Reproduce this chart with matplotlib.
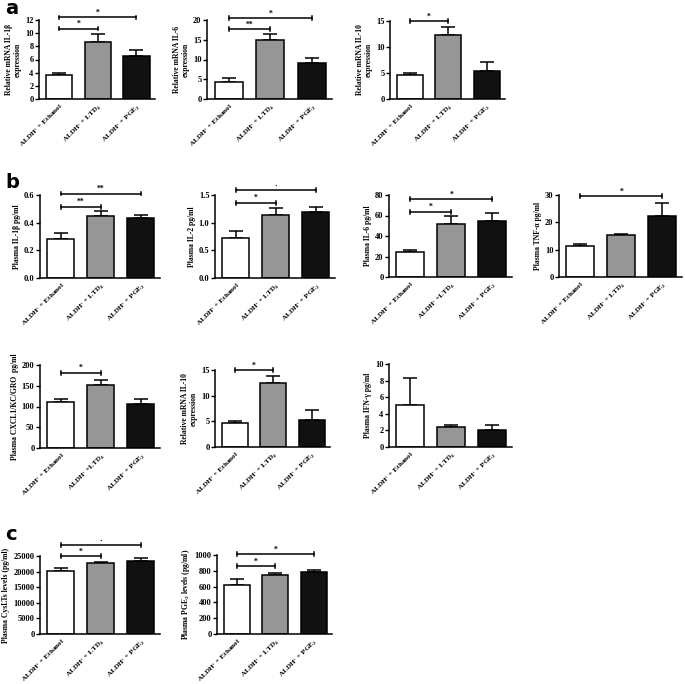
import numpy as np
import matplotlib
matplotlib.use("Agg")
import matplotlib.pyplot as plt

plt.rcParams['font.family'] = ['Liberation Serif', 'DejaVu Serif']
plt.rcParams['mathtext.fontset'] = 'custom'
plt.rcParams['mathtext.rm'] = 'Liberation Serif:bold'
plt.rcParams['mathtext.it'] = 'Liberation Serif:bold'
plt.rcParams['mathtext.bf'] = 'Liberation Serif:bold'

groups = ["ALDH$^{+}$ + Ethanol", "ALDH$^{+}$ + LTD$_{4}$", "ALDH$^{+}$ + PGE$_{2}$"]
groups_b = ["ALDH$^{+}$ + Ethanol", "ALDH$^{+}$ +LTD$_{4}$", "ALDH$^{+}$ + PGE$_{2}$"]
bar_colors = ["white", "#969696", "#111111"]

# panel a - relative mRNA expression
a_il1b = [3.7, 8.6, 6.5]
a_il1b_err = [0.3, 1.2, 0.9]
a_il6 = [4.3, 15.0, 9.1]
a_il6_err = [1.0, 1.5, 1.2]
a_il10 = [4.6, 12.4, 5.4]
a_il10_err = [0.4, 1.5, 1.8]

# panel b - plasma cytokines (pg/ml)
b_il1b = [0.28, 0.45, 0.435]
b_il1b_err = [0.045, 0.035, 0.022]
b_il2 = [0.73, 1.14, 1.20]
b_il2_err = [0.12, 0.12, 0.09]
b_il6 = [24.5, 51.5, 55.0]
b_il6_err = [2.0, 8.5, 7.0]
b_tnf = [11.5, 15.2, 22.3]
b_tnf_err = [0.6, 0.4, 4.7]
b_cxcl1 = [112, 152, 105]
b_cxcl1_err = [5, 12, 13]
b_il10 = [4.6, 12.4, 5.3]
b_il10_err = [0.4, 1.5, 1.9]
b_ifng = [5.1, 2.4, 2.1]
b_ifng_err = [3.2, 0.3, 0.5]

# panel c - plasma lipid mediators (pg/ml)
c_cyslt = [20300, 22600, 23500]
c_cyslt_err = [1000, 350, 950]
c_pge2 = [620, 750, 790]
c_pge2_err = [80, 20, 15]

# (values, errors, ylabel, yticks, x labels, brackets [(i, j, y, star)])
panels = [
    (a_il1b, a_il1b_err, "Relative mRNA IL-1\u03b2\nexpression", [0, 2, 4, 6, 8, 10, 12], groups,
     [(0, 1, 10.7, "*"), (0, 2, 12.4, "*")]),
    (a_il6, a_il6_err, "Relative mRNA IL-6\nexpression", [0, 5, 10, 15, 20], groups,
     [(0, 1, 17.7, "**"), (0, 2, 20.5, "*")]),
    (a_il10, a_il10_err, "Relative mRNA IL-10\nexpression", [0, 5, 10, 15], groups,
     [(0, 1, 15.0, "*")]),
    (b_il1b, b_il1b_err, "Plasma IL-1\u03b2 pg/ml", [0.0, 0.2, 0.4, 0.6], groups,
     [(0, 1, 0.515, "**"), (0, 2, 0.61, "**")]),
    (b_il2, b_il2_err, "Plasma IL-2 pg/ml", [0.0, 0.5, 1.0, 1.5], groups,
     [(0, 1, 1.36, "*"), (0, 2, 1.59, "\u00b7")]),
    (b_il6, b_il6_err, "Plasma IL-6 pg/ml", [0, 20, 40, 60, 80], groups_b,
     [(0, 1, 63.5, "*"), (0, 2, 76, "*")]),
    (b_tnf, b_tnf_err, "Plasma TNF-\u03b1 pg/ml", [0, 10, 20, 30], groups,
     [(0, 2, 29.6, "*")]),
    (b_cxcl1, b_cxcl1_err, "Plasma CXCL1/KC/GRO  pg/ml", [0, 50, 100, 150, 200], groups_b,
     [(0, 1, 181, "*")]),
    (b_il10, b_il10_err, "Relative mRNA IL-10\nexpression", [0, 5, 10, 15], groups,
     [(0, 1, 15.0, "*")]),
    (b_ifng, b_ifng_err, "Plasma IFN-\u03b3 pg/ml", [0, 2, 4, 6, 8, 10], groups,
     []),
    (c_cyslt, c_cyslt_err, "Plasma CysLTs levels (pg/ml)", [0, 5000, 10000, 15000, 20000, 25000], groups,
     [(0, 1, 25000, "*"), (0, 2, 28500, "\u00b7")]),
    (c_pge2, c_pge2_err, "Plasma PGE$_{2}$ levels (pg/ml)", [0, 200, 400, 600, 800, 1000], groups,
     [(0, 1, 860, "*"), (0, 2, 1010, "*")]),
]

# axes boxes in pixels: left, top, right, bottom
boxes = [
    (39, 20, 155, 99), (207, 20, 332, 99), (390, 21, 505, 99),
    (40, 195, 160, 278), (215, 195, 335, 278), (389, 195, 512, 277), (559, 195, 682, 277),
    (40, 365, 160, 448), (215, 370, 330, 447), (389, 364, 512, 447),
    (40, 556, 160, 634), (217, 555, 332, 634),
]

W, H = 685, 684
fig = plt.figure(figsize=(W / 100, H / 100), dpi=100)

x = np.arange(3)
for (vals, errs, ylab, yt, xl, brk), (l, t, r, b) in zip(panels, boxes):
    ax = fig.add_axes([l / W, 1 - b / H, (r - l) / W, (b - t) / H])
    ax.bar(x, vals, width=0.68, color=bar_colors, edgecolor="black", linewidth=1.1, zorder=2)
    ax.errorbar(x, vals, yerr=[np.zeros(3), errs], fmt="none", ecolor="black",
                elinewidth=1.1, capsize=5, capthick=1.1, zorder=1)
    ax.set_xlim(-0.52, 2.48)
    ax.set_ylim(0, yt[-1])
    ax.set_yticks(yt)
    ax.set_yticklabels([f"{v:g}" if not isinstance(v, float) else f"{v:.1f}" for v in yt],
                       fontsize=6, fontweight="bold")
    ax.set_xticks(x)
    ax.set_xticklabels(xl, rotation=45, ha="right", rotation_mode="anchor",
                       fontsize=5.2, fontweight="bold")
    ax.tick_params(axis="x", length=0, pad=2)
    ax.tick_params(axis="y", length=3, width=1, pad=1)
    for s in ["top", "right"]:
        ax.spines[s].set_visible(False)
    ax.spines["left"].set_linewidth(1.1)
    ax.spines["bottom"].set_linewidth(1.1)
    ax.set_ylabel(ylab, fontsize=5.5, fontweight="bold", labelpad=2, linespacing=1.2)
    d = yt[-1] * 0.022
    for i, j, yb, star in brk:
        ax.plot([i, j], [yb, yb], color="black", lw=1.1, clip_on=False)
        ax.plot([i, i], [yb - d, yb + d], color="black", lw=1.1, clip_on=False)
        ax.plot([j, j], [yb - d, yb + d], color="black", lw=1.1, clip_on=False)
        ax.text((i + j) / 2, yb + d * 0.4, star, ha="center", va="bottom",
                fontsize=5.5, fontweight="bold", clip_on=False)

fig.text(5 / W, 1 - 8 / H, "a", fontsize=14, fontweight="bold", family="DejaVu Sans", va="center")
fig.text(5 / W, 1 - 182 / H, "b", fontsize=14, fontweight="bold", family="DejaVu Sans", va="center")
fig.text(5 / W, 1 - 535 / H, "c", fontsize=14, fontweight="bold", family="DejaVu Sans", va="center")

fig.savefig("out.png", dpi=100)
